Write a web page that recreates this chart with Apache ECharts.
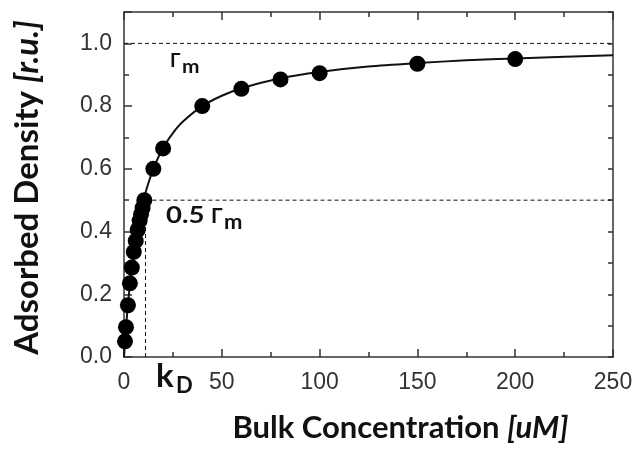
<!DOCTYPE html>
<html>
<head>
<meta charset="utf-8">
<script src="https://cdn.jsdelivr.net/npm/echarts@6/dist/echarts.min.js"></script>
<style>
  html, body { margin: 0; padding: 0; background: #fff; }
  #chart { width: 639px; height: 450px; }
</style>
</head>
<body>
<div id="chart"></div>
<script>
// measured points (bulk concentration uM, adsorbed density r.u.)
const concX = [0.5, 1, 2, 3, 4, 5, 6, 7, 8, 8.7, 9.5, 10.4, 15, 20, 40, 60, 80, 100, 150, 200];
const densY = [0.05, 0.095, 0.165, 0.235, 0.285, 0.335, 0.37, 0.405, 0.435, 0.455, 0.475, 0.5, 0.6, 0.665, 0.8, 0.855, 0.885, 0.905, 0.935, 0.95];

// fitted curve
const fitX = [0, 1, 2, 3, 4, 5, 6, 7, 8, 10, 12, 15, 20, 25, 30, 40, 50, 60, 80, 100, 125, 150, 175, 200, 250];
const fitY = [0, 0.09, 0.167, 0.23, 0.286, 0.333, 0.375, 0.41, 0.444, 0.5, 0.545, 0.6, 0.667, 0.714, 0.75, 0.8, 0.833, 0.857, 0.889, 0.909, 0.926, 0.937, 0.946, 0.952, 0.962];

const kD = 11;
const gammaM = 1.0;
const xMax = 250;

const chart = echarts.init(document.getElementById('chart'));

const zip = (xs, ys) => xs.map((x, i) => [x, ys[i]]);
const dashed = { color: '#111', width: 1, type: [4, 3] };
const tickFont = { fontFamily: 'Liberation Sans', fontSize: 23, color: '#333' };
const axisLine = { onZero: false, lineStyle: { color: '#333', width: 1.5 } };
const tickLine = { color: '#333', width: 1.5 };
const titleRich = (size) => ({
  b: { fontFamily: 'Lato', fontWeight: 'bold', fontSize: size, color: '#111' },
  i: { fontFamily: 'Lato', fontWeight: 'bold', fontStyle: 'italic', fontSize: size, color: '#111' }
});
const boldText = (txt, left, top, size, sx) => ({
  type: 'text', left, top, scaleX: sx || 1,
  style: { text: txt, fontFamily: 'Lato', fontWeight: 'bold', fontSize: size, fill: '#111' }
});

const option = {
  animation: false,
  grid: { left: 124, right: 26, top: 12, bottom: 93 },
  xAxis: [{
    type: 'value', min: 0, max: xMax, interval: 50,
    axisLine, splitLine: { show: false },
    axisTick: { inside: true, length: 8, lineStyle: tickLine },
    minorTick: { show: true, splitNumber: 2, length: 5, lineStyle: tickLine },
    axisLabel: Object.assign({ margin: 14 }, tickFont),
    name: '{b|Bulk Concentration }{i|[uM]}',
    nameLocation: 'middle', nameGap: 55,
    nameTextStyle: { rich: titleRich(31), padding: [0, 0, 0, 64] }
  }, {
    type: 'value', position: 'top', min: 0, max: xMax, interval: 50,
    axisLine, splitLine: { show: false }, axisLabel: { show: false },
    axisTick: { inside: true, length: 8, lineStyle: tickLine },
    minorTick: { show: true, splitNumber: 2, length: 5, lineStyle: tickLine }
  }],
  yAxis: [{
    type: 'value', min: 0, max: 1.1, interval: 0.2,
    axisLine, splitLine: { show: false },
    axisTick: { inside: true, length: 8, lineStyle: tickLine },
    minorTick: { show: true, splitNumber: 2, length: 5, lineStyle: tickLine },
    axisLabel: Object.assign({ margin: 12, showMaxLabel: false, formatter: v => v.toFixed(1) }, tickFont),
    name: '{b|Adsorbed Density }{i|[r.u.]}',
    nameLocation: 'middle', nameGap: 80, nameRotate: 90,
    nameTextStyle: { rich: titleRich(33), padding: [0, 6, 0, 0] }
  }, {
    type: 'value', position: 'right', min: 0, max: 1.1, interval: 0.1,
    axisLine, splitLine: { show: false }, axisLabel: { show: false },
    axisTick: { inside: true, length: 5, lineStyle: tickLine }
  }],
  series: [
    {
      type: 'line', data: [[0, gammaM], [xMax, gammaM]],
      symbol: 'none', lineStyle: dashed, silent: true
    },
    {
      type: 'line', data: [[kD, 0.5 * gammaM], [xMax, 0.5 * gammaM]],
      symbol: 'none', lineStyle: dashed, silent: true
    },
    {
      type: 'line', data: [[kD, 0], [kD, 0.5 * gammaM]],
      symbol: 'none', lineStyle: dashed, silent: true
    },
    {
      type: 'line', data: zip(fitX, fitY), smooth: 0.3,
      symbol: 'none', lineStyle: { color: '#111', width: 2 }
    },
    {
      type: 'scatter', data: zip(concX, densY),
      symbolSize: 16, itemStyle: { color: '#000', opacity: 1 }, z: 5
    }
  ],
  graphic: [
    boldText('Γ', 170, 51, 19),
    boldText('m', 182, 57, 19, 1.1),
    boldText('0.5', 166, 205, 22, 1.25),
    boldText('Γ', 211, 206, 21),
    boldText('m', 224, 213, 20, 1.1),
    boldText('k', 156, 360, 33),
    boldText('D', 176, 375, 22)
  ]
};

chart.setOption(option);
</script>
</body>
</html>
